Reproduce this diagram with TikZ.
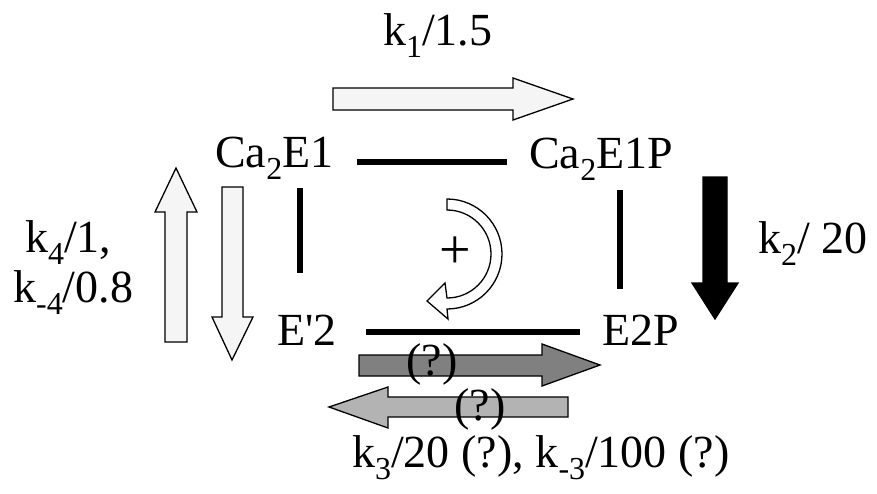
\documentclass[tikz,border=0pt]{standalone}
\usepackage{fontspec}
\setmainfont{Liberation Serif}
\newcommand{\lowsub}[1]{\raisebox{-0.28em}{\fontsize{32}{32}\selectfont #1}}
\newcommand{\straightquote}{\XeTeXglyph\XeTeXglyphindex "quotesingle" }
\definecolor{paleA}{HTML}{F5F5F5}
\definecolor{darkA}{HTML}{808080}
\definecolor{lightA}{HTML}{B3B3B3}
\tikzset{
  lbl/.style={inner sep=0pt, anchor=base west, font=\fontsize{46}{50}\selectfont},
  link/.style={line width=5.5pt},
  fat/.style={draw=black, line width=1.3pt, line join=miter},
}
\begin{document}
\begin{tikzpicture}[x=1pt,y=-1pt]
\useasboundingbox (0,0) rectangle (877,493);
% species
\node[lbl] (c1) at (215,167) {Ca\lowsub{2}E1};
\node[lbl] (c1p) at (529,168) {Ca\lowsub{2}E1P};
\node[lbl] (e2) at (277,345) {E\straightquote 2};
\node[lbl] (e2p) at (602,345) {E2P};
% rate labels
\node[lbl] (k1) at (383,45) {k\lowsub{1}/1.5};
\node[lbl] (k2) at (758,253) {k\lowsub{2}/ 20};
\node[lbl] (k4a) at (25,252) {k\lowsub{4}/1,};
\node[lbl] (k4b) at (13,302) {k\lowsub{-4}/0.8};
\node[lbl] (k3) at (352,467) {k\lowsub{3}/20 (?), k\lowsub{-3}/100 (?)};
% link coordinates
\coordinate (t1) at (357,162); \coordinate (t2) at (507,162);
\coordinate (l1) at (300,188); \coordinate (l2) at (300,273);
\coordinate (r1) at (620,190); \coordinate (r2) at (620,289);
\coordinate (b1) at (366,332); \coordinate (b2) at (580,332);
\draw[link] (t1) -- (t2);
\draw[link] (l1) -- (l2);
\draw[link] (r1) -- (r2);
\draw[link] (b1) -- (b2);
% block arrows
\draw[fat, fill=paleA] (333,88) -- (513,88) -- (513,78) -- (573,99) -- (513,120) -- (513,110) -- (333,110) -- cycle;
\draw[fat, fill=paleA] (165,342) -- (165,212) -- (155,212) -- (176,168) -- (197,212) -- (187,212) -- (187,342) -- cycle;
\draw[fat, fill=paleA] (222,187) -- (243,187) -- (243,317) -- (253,317) -- (232,360) -- (212,317) -- (222,317) -- cycle;
\draw[fat, fill=black] (703,177) -- (727,177) -- (727,283) -- (738,283) -- (715,319) -- (692,283) -- (703,283) -- cycle;
\draw[fat, fill=darkA] (359,355) -- (542,355) -- (542,344) -- (600,365) -- (542,386) -- (542,376) -- (359,376) -- cycle;
\draw[fat, fill=lightA] (568,397) -- (388,397) -- (388,387) -- (329,407) -- (388,428) -- (388,417) -- (568,417) -- cycle;
% curved arrow
\draw[fat, fill=white] (447,199) arc[start angle=-90, end angle=90, radius=55]
  -- (448,319) -- (427,301) -- (445,283) -- (447,298)
  arc[start angle=90, end angle=-90, radius=44] -- cycle;
\node[lbl, anchor=base, font=\fontsize{56}{60}\selectfont] (plus) at (455,268) {+};
% question labels
\node[lbl, anchor=base] (q1) at (432,375) {(?)};
\node[lbl, anchor=base] (q2) at (480,420) {(?)};
\end{tikzpicture}
\end{document}
